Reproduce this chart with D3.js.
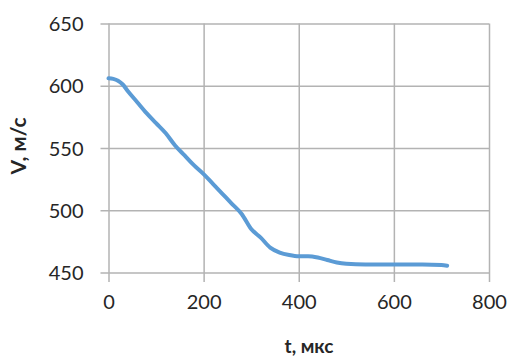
<!DOCTYPE html>
<html>
<head>
<meta charset="utf-8">
<script src="https://cdn.jsdelivr.net/npm/d3@7"></script>
<style>
  body { margin: 0; background: #fff; }
  svg { display: block; font-family: Lato, "Liberation Sans", sans-serif; }
</style>
</head>
<body>
<svg id="chart" width="512" height="360"></svg>
<script>
// data
var tValues = [0, 10, 20, 30, 40, 60, 80, 100, 120, 140, 160, 180, 200, 220, 240, 260, 280, 300,
  320, 340, 360, 380, 400, 420, 440, 460, 480, 500, 540, 580, 620, 660, 700, 712]
var vValues = [606, 605.5, 604, 601, 596, 587, 578, 570, 562, 552, 544, 536, 529, 521, 513, 505, 497, 485,
  478, 470, 466, 464, 463, 463, 462, 460, 458, 457, 456.5, 456.5, 456.5, 456.5, 456, 455.5]
var xTicks = [0, 200, 400, 600, 800]
var yTicks = [450, 500, 550, 600, 650]

var margin = {top: 23.5, right: 23, bottom: 87.5, left: 108.5}
var width = 512, height = 360

var svg = d3.select('#chart')

var xScale = d3.scaleLinear()
  .domain([0, 800])
  .range([margin.left, width - margin.right])

var yScale = d3.scaleLinear()
  .domain([450, 650])
  .range([height - margin.bottom, margin.top])

var gridColor = '#b3b3b3'

// Y grid + ticks
var yAxis = d3.axisLeft(yScale)
  .tickValues(yTicks)
  .tickSize(-(width - margin.left - margin.right))
  .tickPadding(26)

var yG = svg.append('g')
  .attr('transform', `translate(${margin.left},0)`)
  .call(yAxis)
yG.select('.domain').remove()
yG.selectAll('.tick line')
  .attr('x2', width - margin.left - margin.right)
  .attr('x1', -8)
  .style('stroke', gridColor)
  .style('stroke-width', 1.5)
yG.selectAll('.tick text')
  .style('font-size', '20px')
  .style('fill', '#262626')
  .style('font-family', 'Lato, sans-serif')
  .attr('dy', '0.36em')
  .attr('x', -25)

// X grid + ticks
var xAxis = d3.axisBottom(xScale)
  .tickValues(xTicks)
  .tickPadding(16)

var xG = svg.append('g')
  .attr('transform', `translate(0,${height - margin.bottom})`)
  .call(xAxis)
xG.select('.domain').remove()
xG.selectAll('.tick line')
  .attr('y1', -(height - margin.top - margin.bottom))
  .attr('y2', 9.5)
  .style('stroke', gridColor)
  .style('stroke-width', 1.5)
xG.selectAll('.tick text')
  .style('font-size', '20px')
  .style('fill', '#262626')
  .style('font-family', 'Lato, sans-serif')

// the line
var points = tValues.map((t, i) => ({t: t, v: vValues[i]}))
var lineDraw = d3.line()
  .x(d => xScale(d.t))
  .y(d => yScale(d.v))
  .curve(d3.curveMonotoneX)

svg.append('path')
  .datum(points)
  .attr('d', lineDraw)
  .style('fill', 'none')
  .style('stroke', '#5b9bd5')
  .style('stroke-width', 4)
  .style('stroke-linejoin', 'round')
  .style('stroke-linecap', 'round')

// axis titles
svg.append('text')
  .text('t, мкс')
  .attr('x', 309)
  .attr('y', 353)
  .attr('text-anchor', 'middle')
  .style('font-size', '19px')
  .style('font-weight', 'bold')
  .style('fill', '#262626')

svg.append('text')
  .text('V, м/с')
  .attr('transform', 'translate(26,146) rotate(-90)')
  .attr('text-anchor', 'middle')
  .style('font-size', '21px')
  .style('font-weight', 'bold')
  .style('fill', '#262626')
</script>
</body>
</html>
